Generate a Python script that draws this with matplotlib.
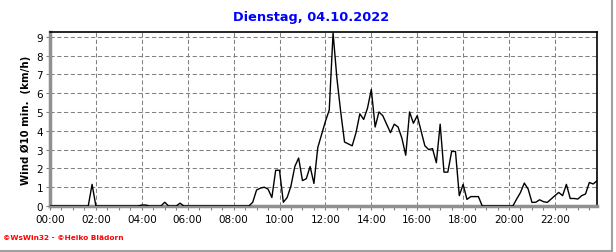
import matplotlib
matplotlib.use("Agg")
import matplotlib.pyplot as plt
from matplotlib.lines import Line2D
import numpy as np

title = "Dienstag, 04.10.2022"
ylabel = "Wind Ø10 min.  (km/h)"
footer = "©WsWin32 - ©Heiko Blädorn"

# 10-minute values, one row per hour (00:00 ... 23:50)
wind = [
    0, 0, 0, 0, 0, 0,                 # 00
    0, 0, 0, 0, 0, 1.15,              # 01
    0, 0, 0, 0, 0, 0,                 # 02
    0, 0, 0, 0, 0, 0,                 # 03
    0.05, 0.05, 0, 0, 0, 0,           # 04
    0.2, 0, 0, 0, 0.15, 0,            # 05
    0, 0, 0, 0, 0, 0,                 # 06
    0, 0, 0, 0, 0, 0,                 # 07
    0, 0, 0, 0, 0, 0.2,               # 08
    0.85, 0.95, 1.0, 0.9, 0.45, 1.9,  # 09
    1.9, 0.2, 0.45, 1.07, 2.1, 2.55,  # 10
    1.35, 1.45, 2.1, 1.2, 3.1, 3.8,   # 11
    4.5, 5.1, 9.2, 6.8, 5.0, 3.4,     # 12
    3.3, 3.2, 3.9, 4.9, 4.6, 5.2,     # 13
    6.2, 4.2, 5.0, 4.8, 4.35, 3.9,    # 14
    4.35, 4.2, 3.6, 2.7, 5.0, 4.4,    # 15
    4.8, 4.0, 3.2, 3.0, 3.05, 2.3,    # 16
    4.35, 1.8, 1.8, 2.9, 2.9, 0.55,   # 17
    1.15, 0.35, 0.5, 0.5, 0.5, 0,     # 18
    0, 0, 0, 0, 0, 0,                 # 19
    0, 0, 0.37, 0.72, 1.22, 0.9,      # 20
    0.19, 0.2, 0.33, 0.23, 0.19, 0.37,  # 21
    0.55, 0.72, 0.55, 1.15, 0.4, 0.4,   # 22
    0.37, 0.55, 0.64, 1.25, 1.17, 1.34, # 23
]
hours = np.arange(len(wind)) / 6.0

xticks = list(range(0, 24, 2))
xticklabels = [f"{h:02d}:00" for h in xticks]
yticks = list(range(0, 10))

W, H = 616, 253
fig = plt.figure(figsize=(W / 100, H / 100), dpi=100)
fig.patch.set_facecolor("white")

ax_l, ax_r, ax_t, ax_b = 50, 597, 33, 207
ax = fig.add_axes([ax_l / W, 1 - ax_b / H, (ax_r - ax_l) / W, (ax_b - ax_t) / H])

ax.plot(hours, wind, color="black", lw=1.0, zorder=3, clip_on=True)

ax.set_xlim(0, hours[-1])
ax.set_ylim(0, 9.25)

ax.set_xticks(xticks)
ax.set_xticklabels(xticklabels)
ax.set_xticks(np.arange(0, 24, 0.5), minor=True)
ax.set_yticks(yticks)

ax.grid(True, which="major", color="#808080", linestyle=(0, (4, 2.5)), lw=0.75)
ax.tick_params(axis="both", which="major", labelsize=7.5, length=3, width=0.8,
               color="#808080", pad=2)
ax.tick_params(axis="x", which="minor", length=3, width=0.8, color="#808080")
ax.tick_params(axis="x", which="major", pad=3)
ax.tick_params(axis="y", which="minor", left=False)

for s in ["top", "right"]:
    ax.spines[s].set_color("black")
    ax.spines[s].set_linewidth(1.2)
for s in ["left", "bottom"]:
    ax.spines[s].set_color("#909090")
    ax.spines[s].set_linewidth(2.5)

ax.set_ylabel(ylabel, fontsize=7.3, fontweight="bold", labelpad=4)

fig.text(0.505, 1 - 17 / H, title, ha="center", va="center", color="#0000ff",
         fontsize=9.3, fontweight="bold")
fig.text(3 / W, 1 - 238 / H, footer, ha="left", va="center", color="#ff0000",
         fontsize=5.3, fontweight="bold")

# outer light-gray frame (bottom and right)
fig.add_artist(Line2D([0, 611.5 / W], [1.5 / H, 1.5 / H], color="#a0a0a0", lw=1.5,
                      transform=fig.transFigure))
fig.add_artist(Line2D([611.5 / W, 611.5 / W], [1.5 / H, 1], color="#a0a0a0", lw=1.5,
                      transform=fig.transFigure))

fig.savefig("out.png", dpi=100)
